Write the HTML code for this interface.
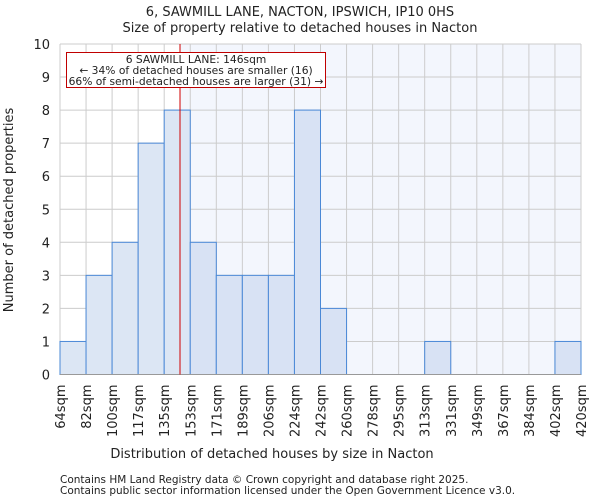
<!DOCTYPE html>
<html><head><meta charset="utf-8"><style>
body{margin:0;background:#fff;font-family:"DejaVu Sans","Liberation Sans",sans-serif;}
svg text{font-family:"DejaVu Sans","Liberation Sans",sans-serif;fill:#222;}
</style></head><body>
<svg id="chart" width="600" height="500"></svg>
<script>
const categories=["64sqm","82sqm","100sqm","117sqm","135sqm","153sqm","171sqm","189sqm","206sqm","224sqm","242sqm","260sqm","278sqm","295sqm","313sqm","331sqm","349sqm","367sqm","384sqm","402sqm","420sqm"];
const counts=[1,3,4,7,8,4,3,3,3,8,2,0,0,0,1,0,0,0,0,1];
const yTicks=[0,1,2,3,4,5,6,7,8,9,10];
const binStart=64, binStep=17.8, marker=146;
const X0=60,X1=581,Y0=374.5,Y1=44;
const NS="http://www.w3.org/2000/svg";
const svg=document.getElementById('chart');
const nb=counts.length;
function xIdx(i){return X0+(X1-X0)*i/nb;}
function xVal(v){return X0+(X1-X0)*(v-binStart)/(binStep*nb);}
function y(v){return Y0-(Y0-Y1)*v/10;}
function mk(t,a,p){const e=document.createElementNS(NS,t);for(const k in a)e.setAttribute(k,a[k]);(p||svg).appendChild(e);return e;}
const mx=xVal(marker);
let e;
e=mk('rect',{x:mx,y:Y1,width:X1-mx,height:Y0-Y1,fill:'#f3f6fd'});


yTicks.forEach(t=>{
 e=mk('line',{x1:X0,x2:X1,y1:y(t),y2:y(t),stroke:'#cccccc','stroke-width':1});
 
 
 e=mk('text',{x:X0-10,y:y(t)+5,'text-anchor':'end','font-size':13});
 e.textContent=t;
 
 
});
for(let i=0;i<=nb;i++){
 e=mk('line',{x1:xIdx(i),x2:xIdx(i),y1:Y1,y2:Y0,stroke:'#cccccc','stroke-width':1});
 
 
}
counts.forEach((c,i)=>{
 if(c<=0)return;
 e=mk('rect',{x:xIdx(i),y:y(c),width:xIdx(i+1)-xIdx(i),height:Y0-y(c),fill:xIdx(i)>=mx?'#d8e2f4':'#dce6f4',stroke:'#4a88d6','stroke-width':1});
 
 
});
e=mk('line',{x1:X0,x2:X1,y1:Y0,y2:Y0,stroke:'#999','stroke-width':1});


categories.forEach((c,i)=>{
 const xx=xIdx(i);
 e=mk('text',{transform:`translate(${xx+5},${Y0+10}) rotate(-90)`,'text-anchor':'end','font-size':13});
 e.textContent=c;
 
 
});
e=mk('line',{x1:mx,x2:mx,y1:Y1,y2:Y0,stroke:'#d00000','stroke-width':1});


e=mk('rect',{x:66.5,y:52.5,width:259,height:35,fill:'#fff',stroke:'#c00000','stroke-width':1});


[["6 SAWMILL LANE: 146sqm",63],["← 34% of detached houses are smaller (16)",74],["66% of semi-detached houses are larger (31) →",85]].forEach(([t,yy])=>{
 e=mk('text',{x:196,y:yy,'text-anchor':'middle','font-size':10.7});
 e.textContent=t;
 
 
});
[["6, SAWMILL LANE, NACTON, IPSWICH, IP10 0HS",16,'chart-title'],["Size of property relative to detached houses in Nacton",32,'chart-subtitle']].forEach(([t,yy,n])=>{
 e=mk('text',{x:300,y:yy,'text-anchor':'middle','font-size':13});
 e.textContent=t;
 
 
});
e=mk('text',{x:272,y:458,'text-anchor':'middle','font-size':13});
e.textContent="Distribution of detached houses by size in Nacton";


e=mk('text',{transform:'translate(13,210) rotate(-90)','text-anchor':'middle','font-size':13});
e.textContent="Number of detached properties";


[["Contains HM Land Registry data © Crown copyright and database right 2025.",483],["Contains public sector information licensed under the Open Government Licence v3.0.",494]].forEach(([t,yy])=>{
 e=mk('text',{x:60,y:yy,'font-size':10.5,fill:'#444'});
 e.textContent=t;
 
 
});
</script>
</body></html>
